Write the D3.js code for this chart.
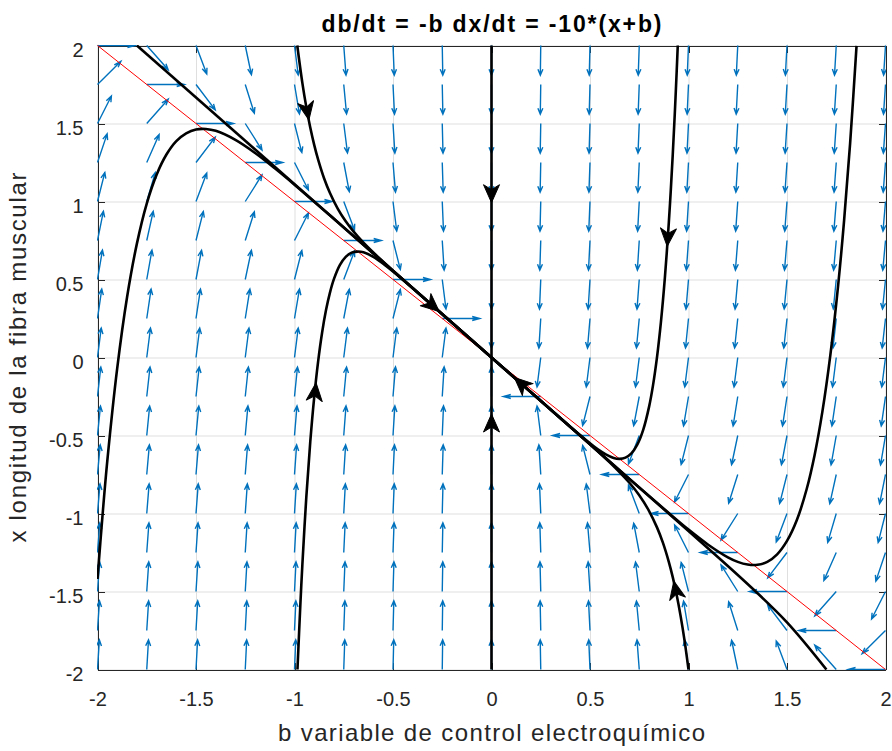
<!DOCTYPE html>
<html>
<head>
<meta charset="utf-8">
<script src="https://cdn.jsdelivr.net/npm/d3@7"></script>
<style>
body { margin: 0; background: #fff; }
svg text { font-family: "Liberation Sans", Arial, sans-serif; fill: #262626; }
.grid line { stroke: #dfdfdf; stroke-width: 1; }
.grid .domain { display: none; }
.axis path, .axis line { stroke: #262626; stroke-width: 1; shape-rendering: crispEdges; }
</style>
</head>
<body>
<div id="chart"></div>
<script>
//////////////////
// Chart values //
//////////////////

var titleText = "db/dt = -b dx/dt = -10*(x+b)";
var xLabelText = "b variable de control electroquímico";
var yLabelText = "x longitud de la fibra muscular";

var tickValues = [-2, -1.5, -1, -0.5, 0, 0.5, 1, 1.5, 2];
var tickLabels = ["-2", "-1.5", "-1", "-0.5", "0", "0.5", "1", "1.5", "2"];

// quiver grid (b and x)
var gridB = [-2, -1.75, -1.5, -1.25, -1, -0.75, -0.5, -0.25, 0, 0.25, 0.5, 0.75, 1, 1.25, 1.5, 1.75, 2];
var gridX = [-2, -1.75, -1.5, -1.25, -1, -0.75, -0.5, -0.25, 0, 0.25, 0.5, 0.75, 1, 1.25, 1.5, 1.75, 2];

// red line x + b = 0
var nullcline = [[-2, 2], [2, -2]];

// black trajectories, [b, x]
var trajLeft = [[-2, -1.42], [-1.975, -1.02], [-1.95, -0.66], [-1.9, -0.07], [-1.85, 0.386], [-1.8, 0.73],
  [-1.75, 0.987], [-1.7, 1.172], [-1.65, 1.301], [-1.6, 1.387], [-1.55, 1.437], [-1.5, 1.462], [-1.45, 1.465],
  [-1.4, 1.453], [-1.3, 1.395], [-1.2, 1.311], [-1.1, 1.213], [-1, 1.108], [-0.8, 0.889], [-0.5, 0.556], [0, 0]];
var trajPeak = [[-0.985, -2], [-0.97, -1.577], [-0.96, -1.327], [-0.94, -0.894], [-0.92, -0.541], [-0.9, -0.255],
  [-0.88, -0.025], [-0.86, 0.159], [-0.84, 0.304], [-0.82, 0.416], [-0.8, 0.502], [-0.77, 0.592], [-0.74, 0.645],
  [-0.71, 0.672], [-0.68, 0.679], [-0.65, 0.674], [-0.6, 0.645], [-0.55, 0.602], [-0.5, 0.552], [-0.4, 0.444], [0, 0]];
var trajTopLeft = [[-0.986, 2], [-0.96, 1.759], [-0.94, 1.605], [-0.92, 1.474], [-0.9, 1.363], [-0.88, 1.268],
  [-0.85, 1.149], [-0.82, 1.054], [-0.78, 0.953], [-0.74, 0.873], [-0.7, 0.807], [-0.65, 0.736], [-0.6, 0.673],
  [-0.5, 0.557], [0, 0]];
var trajAxis = [[0, 2], [0, -2]];
var trajTopRight = [[0.9455, 2], [0.94, 1.833], [0.93, 1.553], [0.92, 1.299], [0.91, 1.07], [0.9, 0.863],
  [0.88, 0.51], [0.86, 0.227], [0.84, 0.001], [0.82, -0.177], [0.8, -0.315], [0.77, -0.464], [0.74, -0.559],
  [0.71, -0.615], [0.68, -0.642], [0.65, -0.65], [0.62, -0.644], [0.58, -0.621], [0.54, -0.589], [0.5, -0.55],
  [0.4, -0.444], [0, 0]];
var trajRight = [[1.853, 1.998], [1.82, 1.366], [1.79, 0.881], [1.76, 0.467], [1.72, 0.015], [1.68, -0.344],
  [1.64, -0.626], [1.6, -0.843], [1.55, -1.042], [1.5, -1.176], [1.45, -1.262], [1.4, -1.31], [1.35, -1.329],
  [1.3, -1.327], [1.25, -1.31], [1.2, -1.281], [1.1, -1.2], [1, -1.103], [0.9, -0.997], [0.7, -0.778], [0, 0]];
var trajBottom = [[1, -2], [0.98, -1.815], [0.96, -1.658], [0.94, -1.523], [0.92, -1.408], [0.9, -1.31],
  [0.87, -1.187], [0.84, -1.089], [0.8, -0.984], [0.75, -0.883], [0.7, -0.803], [0.6, -0.672], [0.5, -0.556], [0, 0]];
var trajSlowA = [[-1.8, 2], [0, 0]];
var trajSlowB = [[1.7, -2], [1.5, -1.698], [1.3, -1.452], [1, -1.112], [0.5, -0.556], [0, 0]];

var trajectories = [trajLeft, trajPeak, trajTopLeft, trajAxis, trajTopRight, trajRight, trajBottom, trajSlowA, trajSlowB];

// where the black arrowheads sit
var flowArrows = [[-0.935, 1.58], [-0.895, -0.22], [0, 1.05], [0, -0.42], [-0.3, 0.333], [0.15, -0.167],
  [0.895, 0.77], [0.935, -1.49]];

// the system in the title
function field(b, x) {
  return [-b, -10 * (x + b)];
}

/////////////
// Layout  //
/////////////

var W = 892, H = 751;
var plot = {left: 97, right: 886, top: 45, bottom: 670};
var arrowLen = 0.19;  // quiver arrow length, data units

var xScale = d3.scaleLinear().domain([-2, 2]).range([plot.left + 0.5, plot.right - 0.5]);
var yScale = d3.scaleLinear().domain([-2, 2]).range([plot.bottom - 0.5, plot.top + 0.5]);

var svg = d3.select("#chart").append("svg")
    .attr("width", W)
    .attr("height", H);

svg.append("clipPath").attr("id", "clip")
  .append("rect")
    .attr("x", plot.left).attr("y", plot.top)
    .attr("width", plot.right - plot.left)
    .attr("height", plot.bottom - plot.top);

// grid
svg.append("g")
    .attr("class", "grid")
    .attr("transform", "translate(0," + (plot.bottom - 0.5) + ")")
    .call(d3.axisBottom(xScale).tickValues(tickValues).tickSize(-(plot.bottom - plot.top)).tickFormat(""));
svg.append("g")
    .attr("class", "grid")
    .attr("transform", "translate(" + (plot.left + 0.5) + ",0)")
    .call(d3.axisLeft(yScale).tickValues(tickValues).tickSize(-(plot.right - plot.left)).tickFormat(""));

// axes (box with inward ticks)
function label(d, i) { return tickLabels[i]; }

var xAxis = svg.append("g")
    .attr("class", "axis")
    .attr("transform", "translate(0," + (plot.bottom - 0.5) + ")")
    .call(d3.axisBottom(xScale).tickValues(tickValues).tickFormat(label).tickSizeInner(-7).tickSizeOuter(0));
xAxis.selectAll("text")
    .attr("y", 36).attr("dy", null)
    .style("font-size", "20px");

var yAxis = svg.append("g")
    .attr("class", "axis")
    .attr("transform", "translate(" + (plot.left + 0.5) + ",0)")
    .call(d3.axisLeft(yScale).tickValues(tickValues).tickFormat(label).tickSizeInner(-7).tickSizeOuter(0));
yAxis.selectAll("text")
    .attr("x", -14).attr("y", 11).attr("dy", null)
    .style("font-size", "20px");

svg.append("g")
    .attr("class", "axis")
    .attr("transform", "translate(0," + (plot.top + 0.5) + ")")
    .call(d3.axisTop(xScale).tickValues(tickValues).tickFormat("").tickSizeInner(-7).tickSizeOuter(0));
svg.append("g")
    .attr("class", "axis")
    .attr("transform", "translate(" + (plot.right - 0.5) + ",0)")
    .call(d3.axisRight(yScale).tickValues(tickValues).tickFormat("").tickSizeInner(-7).tickSizeOuter(0));

///////////////////
// Quiver arrows //
///////////////////

var quiver = [];
gridB.forEach(function(b) {
  gridX.forEach(function(x) {
    var f = field(b, x);
    var m = Math.sqrt(f[0] * f[0] + f[1] * f[1]);
    if (m > 0) quiver.push({b: b, x: x, u: f[0] / m * arrowLen, v: f[1] / m * arrowLen});
  });
});

var alpha = 0.2, beta = 0.33;
function quiverPath(d) {
  var tb = d.b + d.u, tx = d.x + d.v;
  var h1 = [tb - alpha * (d.u + beta * d.v), tx - alpha * (d.v - beta * d.u)];
  var h2 = [tb - alpha * (d.u - beta * d.v), tx - alpha * (d.v + beta * d.u)];
  return "M" + xScale(d.b) + "," + yScale(d.x) + "L" + xScale(tb) + "," + yScale(tx) +
    "M" + xScale(h1[0]) + "," + yScale(h1[1]) + "L" + xScale(tb) + "," + yScale(tx) +
    "L" + xScale(h2[0]) + "," + yScale(h2[1]);
}

var data = svg.append("g").attr("clip-path", "url(#clip)");

data.append("g")
  .selectAll("path")
  .data(quiver)
  .enter()
  .append("path")
    .attr("d", quiverPath)
    .attr("fill", "none")
    .attr("stroke", "#0072bd")
    .attr("stroke-width", 1.4);

// red nullcline
var line = d3.line()
    .x(function(d) { return xScale(d[0]); })
    .y(function(d) { return yScale(d[1]); });

data.append("path")
    .attr("d", line(nullcline))
    .attr("fill", "none")
    .attr("stroke", "#ff0000")
    .attr("stroke-width", 1);

// trajectories
var curve = d3.line()
    .x(function(d) { return xScale(d[0]); })
    .y(function(d) { return yScale(d[1]); })
    .curve(d3.curveCatmullRom.alpha(0.5));

data.append("g")
  .selectAll("path")
  .data(trajectories)
  .enter()
  .append("path")
    .attr("d", curve)
    .attr("fill", "none")
    .attr("stroke", "#000")
    .attr("stroke-width", 2.6)
    .attr("stroke-linejoin", "round");

// black arrowheads along the flow
var kx = (xScale(1) - xScale(0)), ky = (yScale(0) - yScale(1));
data.append("g")
  .selectAll("path")
  .data(flowArrows)
  .enter()
  .append("path")
    .attr("d", "M9,0L-9,-8L-4,0L-9,8Z")
    .attr("transform", function(d) {
      var f = field(d[0], d[1]);
      var ang = Math.atan2(-f[1] * ky, f[0] * kx) * 180 / Math.PI;
      return "translate(" + xScale(d[0]) + "," + yScale(d[1]) + ") rotate(" + ang + ")";
    })
    .attr("fill", "#000")
    .attr("stroke", "#000")
    .attr("stroke-width", 1)
    .attr("stroke-linejoin", "round");

//////////////////////
// Title and labels //
//////////////////////

svg.append("text")
    .attr("x", (plot.left + plot.right) / 2)
    .attr("y", 32)
    .attr("text-anchor", "middle")
    .style("font-size", "23px")
    .style("font-weight", "bold")
    .style("fill", "#000")
    .attr("textLength", 340)
    .attr("lengthAdjust", "spacing")
    .text(titleText);

svg.append("text")
    .attr("x", (plot.left + plot.right) / 2)
    .attr("y", 741)
    .attr("text-anchor", "middle")
    .style("font-size", "24px")
    .attr("textLength", 427)
    .attr("lengthAdjust", "spacing")
    .text(xLabelText);

svg.append("text")
    .attr("transform", "translate(26," + ((plot.top + plot.bottom) / 2) + ") rotate(-90)")
    .attr("text-anchor", "middle")
    .style("font-size", "24px")
    .attr("textLength", 370)
    .attr("lengthAdjust", "spacing")
    .text(yLabelText);
</script>
</body>
</html>
